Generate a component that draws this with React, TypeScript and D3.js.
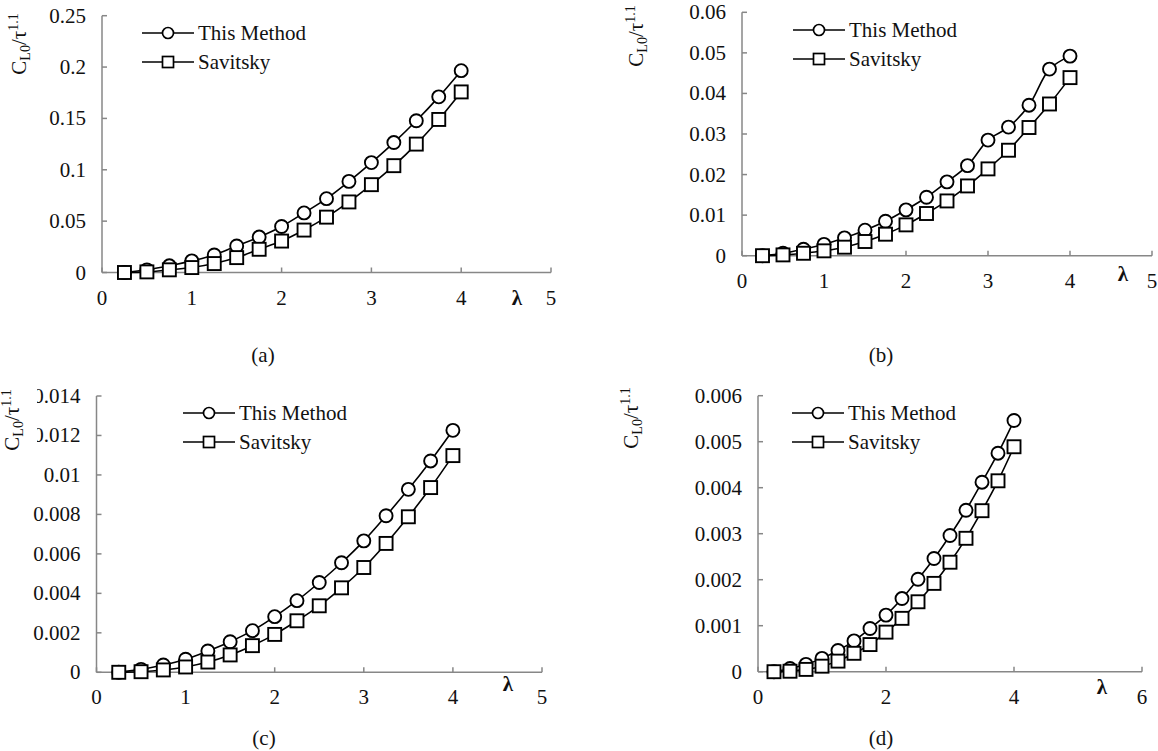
import React from 'react';
import * as d3 from 'd3';

const lambdaValues = [0.25, 0.5, 0.75, 1, 1.25, 1.5, 1.75, 2, 2.25, 2.5, 2.75, 3, 3.25, 3.5, 3.75, 4];

const thisMethodA = [0, 0.0026, 0.0065, 0.0113, 0.0171, 0.0258, 0.0345, 0.0448, 0.058, 0.0719, 0.0887, 0.107, 0.1265, 0.1477, 0.171, 0.1965];
const savitskyA = [0, 0.0006, 0.0026, 0.0048, 0.0087, 0.0145, 0.0226, 0.0306, 0.0413, 0.0539, 0.0687, 0.0855, 0.104, 0.125, 0.149, 0.1758];

const thisMethodB = [0, 0.0006, 0.0016, 0.0028, 0.0044, 0.0063, 0.0085, 0.0113, 0.0144, 0.0182, 0.0222, 0.0285, 0.0317, 0.0371, 0.046, 0.0492];
const savitskyB = [0, 0.0002, 0.0006, 0.0012, 0.0021, 0.0035, 0.0053, 0.0076, 0.0104, 0.0135, 0.0172, 0.0214, 0.026, 0.0316, 0.0374, 0.0439];

const thisMethodC = [0, 0.00015, 0.00037, 0.00066, 0.00108, 0.00155, 0.00211, 0.00282, 0.00363, 0.00455, 0.00555, 0.00666, 0.00793, 0.00927, 0.01071, 0.01226];
const savitskyC = [0, 0.00003, 0.00012, 0.00027, 0.00052, 0.00088, 0.00135, 0.00192, 0.00261, 0.00337, 0.00428, 0.00531, 0.00653, 0.00788, 0.00936, 0.01098];

const thisMethodD = [0, 0.00007, 0.00016, 0.00029, 0.00046, 0.00067, 0.00094, 0.00123, 0.00159, 0.00201, 0.00246, 0.00296, 0.00351, 0.00412, 0.00475, 0.00546];
const savitskyD = [0, 0.00001, 0.00005, 0.00012, 0.00023, 0.0004, 0.00059, 0.00086, 0.00116, 0.00152, 0.00192, 0.00238, 0.0029, 0.0035, 0.00415, 0.00489];

const yTicksA = [0, 0.05, 0.1, 0.15, 0.2, 0.25];
const yTickLabelsA = ['0', '0.05', '0.1', '0.15', '0.2', '0.25'];
const yTicksB = [0, 0.01, 0.02, 0.03, 0.04, 0.05, 0.06];
const yTickLabelsB = ['0', '0.01', '0.02', '0.03', '0.04', '0.05', '0.06'];
const yTicksC = [0, 0.002, 0.004, 0.006, 0.008, 0.01, 0.012, 0.014];
const yTickLabelsC = ['0', '0.002', '0.004', '0.006', '0.008', '0.01', '0.012', '0.014'];
const yTicksD = [0, 0.001, 0.002, 0.003, 0.004, 0.005, 0.006];
const yTickLabelsD = ['0', '0.001', '0.002', '0.003', '0.004', '0.005', '0.006'];
const xTicksABC = [0, 1, 2, 3, 4, 5];
const xTicksD = [0, 2, 4, 6];

const seriesNames = ['This Method', 'Savitsky'];
const captions = ['(a)', '(b)', '(c)', '(d)'];

const FONT = "'Liberation Serif', 'Times New Roman', 'DejaVu Serif', serif";
const AXIS = '#878787';

type PanelProps = {
  px0: number; px1: number; py0: number; py1: number;
  xMax: number; yMax: number;
  xTicks: number[]; yTicks: number[]; yLabels: string[];
  s1: number[]; s2: number[];
  legX: number; legY: number;
  titleX: number; titleY: number; mask?: boolean;
  lamX: number; lamY: number;
  capX: number; capY: number; caption: string;
};

function Panel(p: PanelProps) {
  const x = d3.scaleLinear().domain([0, p.xMax]).range([p.px0, p.px1]);
  const y = d3.scaleLinear().domain([0, p.yMax]).range([p.py0, p.py1]);
  const line = d3.line<number>()
    .x((_, i) => x(lambdaValues[i]))
    .y((d) => y(d))
    .curve(d3.curveCatmullRom.alpha(0.5));
  const r = 6.5;
  const sq = 13;
  const fs = 21;
  return (
    <g>
      <line x1={p.px0} x2={p.px1} y1={p.py0} y2={p.py0} stroke={AXIS} strokeWidth={1.5} />
      <line x1={p.px0} x2={p.px0} y1={p.py0} y2={p.py1} stroke={AXIS} strokeWidth={1.5} />
      {p.xTicks.map((t) => (
        <line key={'xt' + t} x1={x(t)} x2={x(t)} y1={p.py0} y2={p.py0 - 5} stroke={AXIS} strokeWidth={1.5} />
      ))}
      {p.yTicks.map((t) => (
        <line key={'yt' + t} x1={p.px0} x2={p.px0 + 5} y1={y(t)} y2={y(t)} stroke={AXIS} strokeWidth={1.5} />
      ))}
      {p.xTicks.map((t) => (
        <text key={'xl' + t} x={x(t)} y={p.py0 + 32} textAnchor="middle" fontSize={fs} fontFamily={FONT} fill="#111">{t}</text>
      ))}
      {p.yTicks.map((t, i) => (
        <text key={'yl' + t} x={p.px0 - 16} y={y(t) + 7} textAnchor="end" fontSize={fs} fontFamily={FONT} fill="#111">{p.yLabels[i]}</text>
      ))}
      <path d={line(p.s1) || ''} fill="none" stroke="#000" strokeWidth={1.6} />
      {p.s1.map((v, i) => (
        <circle key={'c' + i} cx={x(lambdaValues[i])} cy={y(v)} r={r} fill="#fff" stroke="#000" strokeWidth={1.9} />
      ))}
      <path d={line(p.s2) || ''} fill="none" stroke="#000" strokeWidth={1.6} />
      {p.s2.map((v, i) => (
        <rect key={'s' + i} x={x(lambdaValues[i]) - sq / 2} y={y(v) - sq / 2} width={sq} height={sq} fill="#fff" stroke="#000" strokeWidth={1.9} />
      ))}
      {seriesNames.map((n, i) => {
        const ly = p.legY + i * 29;
        return (
          <g key={n}>
            <line x1={p.legX} x2={p.legX + 52} y1={ly} y2={ly} stroke="#000" strokeWidth={1.6} />
            {i === 0 ? (
              <circle cx={p.legX + 26} cy={ly} r={5.5} fill="#fff" stroke="#000" strokeWidth={1.7} />
            ) : (
              <rect x={p.legX + 26 - 5.5} y={ly - 5.5} width={11} height={11} fill="#fff" stroke="#000" strokeWidth={1.7} />
            )}
            <text x={p.legX + 56} y={ly + 7} fontSize={fs} fontFamily={FONT} fill="#111">{n}</text>
          </g>
        );
      })}
      {p.mask && <rect x={0} y={p.titleY - 38} width={37} height={80} fill="#fff" />}
      <text transform={`translate(${p.titleX},${p.titleY}) rotate(-90)`} textAnchor="middle" fontSize={fs} fontFamily={FONT} fill="#111">
        <tspan>C</tspan>
        <tspan fontSize={14} dy={4}>L0</tspan>
        <tspan dy={-4}>/τ</tspan>
        <tspan fontSize={14} dy={-8}>1.1</tspan>
      </text>
      <text x={p.lamX} y={p.lamY} textAnchor="middle" fontSize={fs} fontWeight="bold" fontFamily={FONT} fill="#111">λ</text>
      <text x={p.capX} y={p.capY} textAnchor="middle" fontSize={21} fontFamily={FONT} fill="#111">{p.caption}</text>
    </g>
  );
}

export default function App() {
  return (
    <svg width={1158} height={751} style={{ position: 'absolute', left: 0, top: 0, background: '#fff' }}>
      <rect width={1158} height={751} fill="#fff" />
      <Panel px0={102} px1={551} py0={272.5} py1={15.7} xMax={5} yMax={0.25}
        xTicks={xTicksABC} yTicks={yTicksA} yLabels={yTickLabelsA}
        s1={thisMethodA} s2={savitskyA}
        legX={142} legY={33}
        titleX={26} titleY={44}
        lamX={517} lamY={305} capX={263} capY={362} caption={captions[0]} />
      <Panel px0={742} px1={1152} py0={255.7} py1={12.3} xMax={5} yMax={0.06}
        xTicks={xTicksABC} yTicks={yTicksB} yLabels={yTickLabelsB}
        s1={thisMethodB} s2={savitskyB}
        legX={793} legY={30}
        titleX={643} titleY={36}
        lamX={1123} lamY={281} capX={881} capY={362} caption={captions[1]} />
      <Panel px0={96.5} px1={542} py0={672.3} py1={396} xMax={5} yMax={0.014}
        xTicks={xTicksABC} yTicks={yTicksC} yLabels={yTickLabelsC}
        s1={thisMethodC} s2={savitskyC}
        legX={183} legY={413}
        titleX={19} titleY={420} mask
        lamX={508} lamY={691} capX={264} capY={745} caption={captions[2]} />
      <Panel px0={758} px1={1142} py0={671.7} py1={395.7} xMax={6} yMax={0.006}
        xTicks={xTicksD} yTicks={yTicksD} yLabels={yTickLabelsD}
        s1={thisMethodD} s2={savitskyD}
        legX={792} legY={413}
        titleX={638} titleY={418}
        lamX={1102} lamY={694} capX={881} capY={745} caption={captions[3]} />
    </svg>
  );
}
